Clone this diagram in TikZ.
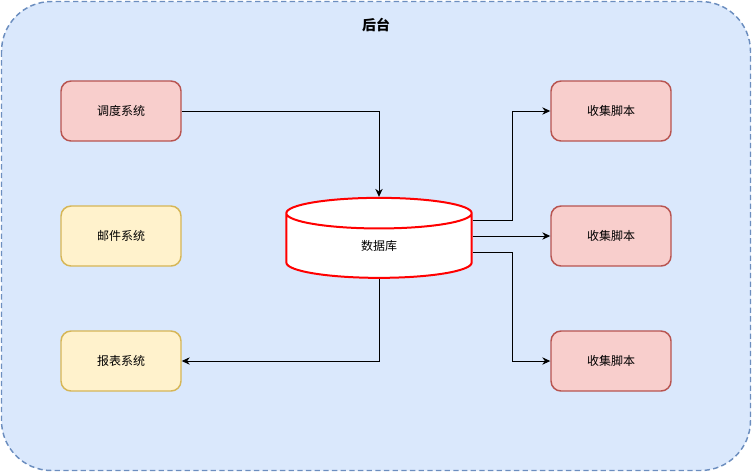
\documentclass[tikz,border=0pt]{standalone}
\usepackage{fontspec}
\newfontfamily\cjk{Noto Sans CJK SC}
\usetikzlibrary{arrows.meta,positioning,shapes.geometric}
\definecolor{bgfill}{HTML}{DAE8FC}
\definecolor{bgdraw}{HTML}{6C8EBF}
\definecolor{redfill}{HTML}{F8CECC}
\definecolor{reddraw}{HTML}{B85450}
\definecolor{yelfill}{HTML}{FFF2CC}
\definecolor{yeldraw}{HTML}{D6B656}
\begin{document}
\begin{tikzpicture}[x=0.75pt,y=-0.75pt]
\tikzset{
  sysbox/.style={rectangle,rounded corners=7.5pt,line width=1.1pt,minimum width=90pt,minimum height=45pt,inner sep=1pt,font=\cjk\fontsize{9}{11}\selectfont},
  redbox/.style={sysbox,draw=reddraw,fill=redfill},
  yelbox/.style={sysbox,draw=yeldraw,fill=yelfill},
  dbnode/.style={cylinder,shape border rotate=90,draw=red,fill=white,line width=1.5pt,minimum width=139pt,minimum height=60pt,aspect=0.85,inner sep=0pt,font=\cjk\fontsize{9}{11}\selectfont},
  link/.style={draw=black,line width=0.75pt,-{Stealth[length=6pt,width=5.5pt]}}
}
\useasboundingbox (0,0) rectangle (752,472);
\draw[fill=bgfill,draw=bgdraw,line width=1.1pt,dash pattern=on 4pt off 2.5pt,rounded corners=37.5pt] (1.5,1.5) rectangle (750.5,470.5);
\node[font=\cjk\bfseries\fontsize{10.5}{12}\selectfont] (title) at (376,25) {后台};
\node[redbox] (sched) at (121,111) {调度系统};
\node[yelbox] (mail) at (121,236) {邮件系统};
\node[yelbox] (report) at (121,361) {报表系统};
\node[redbox] (col1) at (611,111) {收集脚本};
\node[redbox] (col2) at (611,236) {收集脚本};
\node[redbox] (col3) at (611,361) {收集脚本};
\node[dbnode] (db) at (379,246) {数据库};
\draw[link] (sched.east) -| (db.north);
\draw[link] ([yshift=19.5pt]db.east) -- ++(40,0) |- (col1.west);
\draw[link] (col2.west -| db.east) -- (col2.west);
\draw[link] ([yshift=-4.5pt]db.east) -- ++(40,0) |- (col3.west);
\draw[link] (db.south) |- (report.east);
\end{tikzpicture}
\end{document}
